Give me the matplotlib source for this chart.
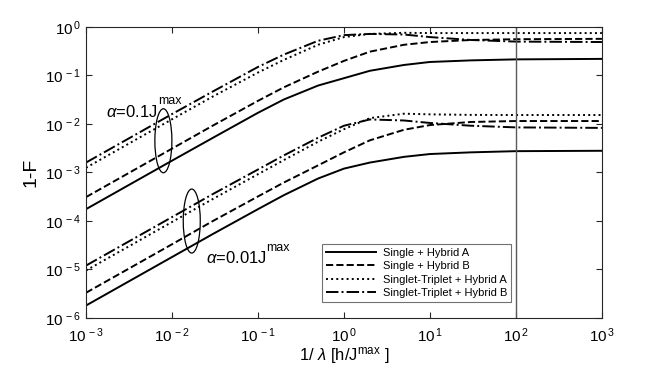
import matplotlib
matplotlib.use("Agg")
import matplotlib.pyplot as plt
from matplotlib.patches import Ellipse

plt.rcParams["font.family"] = ["Liberation Sans", "DejaVu Sans"]
plt.rcParams["mathtext.fontset"] = "custom"
plt.rcParams["mathtext.rm"] = "Liberation Sans"
plt.rcParams["mathtext.it"] = "Liberation Sans:italic"

# 1/lambda sample points
x = [1e-3, 1e-2, 3e-2, 0.1, 0.2, 0.5, 1, 2, 5, 10, 30, 100, 1000]

# alpha = 0.1 J^max
up_single_a = [1.75e-4, 1.75e-3, 5.2e-3, 0.017, 0.032, 0.062, 0.088, 0.125, 0.165, 0.19, 0.205, 0.215, 0.22]
up_single_b = [3.1e-4, 3.1e-3, 9.3e-3, 0.03, 0.057, 0.12, 0.2, 0.31, 0.43, 0.49, 0.54, 0.56, 0.57]
up_trip_a = [1.25e-3, 0.0125, 0.037, 0.115, 0.21, 0.43, 0.62, 0.72, 0.76, 0.75, 0.75, 0.75, 0.75]
up_trip_b = [1.6e-3, 0.016, 0.047, 0.15, 0.27, 0.52, 0.68, 0.72, 0.70, 0.62, 0.54, 0.50, 0.49]

# alpha = 0.01 J^max
lo_single_a = [1.8e-6, 1.8e-5, 5.4e-5, 1.75e-4, 3.4e-4, 7.5e-4, 1.2e-3, 1.6e-3, 2.1e-3, 2.4e-3, 2.6e-3, 2.75e-3, 2.8e-3]
lo_single_b = [3.3e-6, 3.3e-5, 1e-4, 3.2e-4, 6.2e-4, 1.4e-3, 2.6e-3, 4.6e-3, 7.6e-3, 9.5e-3, 0.011, 0.0115, 0.0115]
lo_trip_a = [9.5e-6, 9.5e-5, 2.85e-4, 9.2e-4, 1.8e-3, 4.3e-3, 7.8e-3, 0.0132, 0.0163, 0.0158, 0.0154, 0.0153, 0.0153]
lo_trip_b = [1.2e-5, 1.2e-4, 3.6e-4, 1.15e-3, 2.25e-3, 5.2e-3, 9.2e-3, 0.0124, 0.0118, 0.0105, 0.0092, 0.0085, 0.0083]

labels = ["Single + Hybrid A", "Single + Hybrid B",
          "Singlet-Triplet + Hybrid A", "Singlet-Triplet + Hybrid B"]
styles = ["-", "--", ":", "-."]
x_exp = [-3, -2, -1, 0, 1, 2, 3]
y_exp = [-6, -5, -4, -3, -2, -1, 0]

fig = plt.figure(figsize=(6.64, 3.65), dpi=100)
ax = fig.add_axes([0.1295, 0.129, 0.777, 0.797])

ups = [up_single_a, up_single_b, up_trip_a, up_trip_b]
los = [lo_single_a, lo_single_b, lo_trip_a, lo_trip_b]
for ys, ls, lab in zip(ups, styles, labels):
    ax.plot(x, ys, ls=ls, color="k", lw=1.4, label=lab)
for ys, ls in zip(los, styles):
    ax.plot(x, ys, ls=ls, color="k", lw=1.4)

ax.axvline(100, color="0.35", lw=1.0)

ax.set_xscale("log")
ax.set_yscale("log")
ax.set_xlim(1e-3, 1e3)
ax.set_ylim(1e-6, 1)
ax.set_xticks([10.0 ** e for e in x_exp])
ax.set_yticks([10.0 ** e for e in y_exp])
ax.set_xticklabels([r"$\mathregular{10^{\,%d}}$" % e for e in x_exp])
ax.set_yticklabels([r"$\mathregular{10^{\,%d}}$" % e for e in y_exp])
ax.minorticks_off()
ax.tick_params(which="both", direction="in", top=True, right=True,
               length=4, labelsize=11, colors="0.15", labelcolor="k")
ax.tick_params(axis="x", pad=6)
for sp in ax.spines.values():
    sp.set_color("0.15")
    sp.set_linewidth(0.8)

ax.set_xlabel(r"1/ $\lambda$ [h/J$^{\rm max}$ ]", fontsize=12, labelpad=0)
ax.set_ylabel("1-F", fontsize=14)

# ellipses grouping the curves
ax.add_patch(Ellipse((0.15, 0.609), 0.033, 0.22, transform=ax.transAxes,
                     fill=False, lw=0.9, color="k"))
ax.add_patch(Ellipse((0.205, 0.333), 0.033, 0.22, transform=ax.transAxes,
                     fill=False, lw=0.9, color="k"))
ax.text(0.038, 0.708, r"$\alpha$=0.1J", transform=ax.transAxes, fontsize=12,
        va="center")
ax.text(0.14, 0.745, "max", transform=ax.transAxes, fontsize=9, va="center")
ax.text(0.232, 0.206, r"$\alpha$=0.01J", transform=ax.transAxes, fontsize=12,
        va="center")
ax.text(0.35, 0.24, "max", transform=ax.transAxes, fontsize=9, va="center")

leg = ax.legend(loc="upper right", bbox_to_anchor=(0.824, 0.254), fontsize=8,
                frameon=True, fancybox=False, borderpad=0.35, labelspacing=0.3,
                handlelength=4.5, handletextpad=0.6, borderaxespad=0)
leg.get_frame().set_edgecolor("0.3")
leg.get_frame().set_linewidth(0.8)

fig.savefig("out.png", dpi=100)
